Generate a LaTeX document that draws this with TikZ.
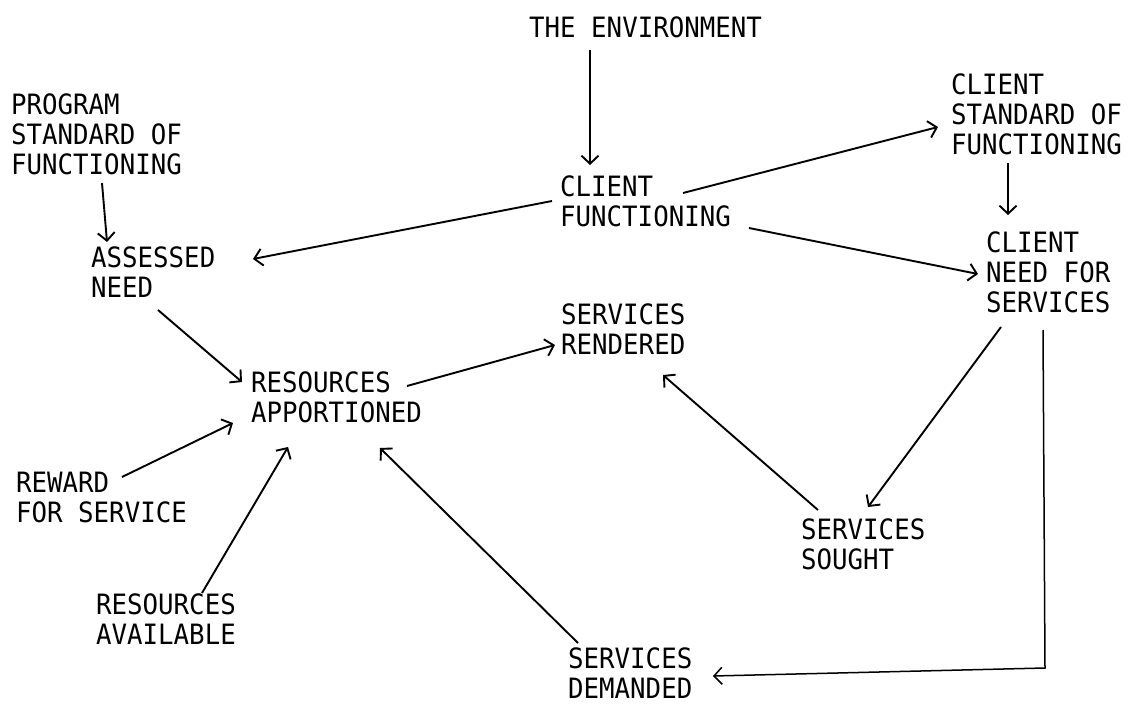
\documentclass[tikz,border=0pt]{standalone}
\usepackage{fontspec}
\usetikzlibrary{arrows.meta,calc}
\newfontfamily\labelfont[FakeStretch=0.92]{DejaVu Sans Mono}
\begin{document}
\begin{tikzpicture}[x=1pt,y=-1pt,
  lbl/.style={anchor=north west,inner sep=0pt,align=left,
    font=\labelfont\fontsize{28}{30}\selectfont},
  flow/.style={line width=1.9pt,-{Straight Barb[length=8pt,width=17pt]}}]
\useasboundingbox[fill=white] (0,0) rectangle (1130,706);

% labels
\node[lbl] (env)  at (529,17)  {THE ENVIRONMENT};
\node[lbl] (cf)   at (560,176) {CLIENT\\FUNCTIONING};
\node[lbl] (csf)  at (951,74)  {CLIENT\\STANDARD OF\\FUNCTIONING};
\node[lbl] (cnfs) at (986,232) {CLIENT\\NEED FOR\\SERVICES};
\node[lbl] (psf)  at (11,94)   {PROGRAM\\STANDARD OF\\FUNCTIONING};
\node[lbl] (an)   at (91,247)  {ASSESSED\\NEED};
\node[lbl] (ra)   at (251,372) {RESOURCES\\APPORTIONED};
\node[lbl] (sr)   at (561,304) {SERVICES\\RENDERED};
\node[lbl] (rfs)  at (16,472)  {REWARD\\FOR SERVICE};
\node[lbl] (rav)  at (96,594)  {RESOURCES\\AVAILABLE};
\node[lbl] (sd)   at (568,648) {SERVICES\\DEMANDED};
\node[lbl] (ss)   at (801,519) {SERVICES\\SOUGHT};

% connectors
\draw[flow] ($(env.north west)+(61,33)$) -- ($(cf.north west)+(30,-11)$);
\draw[flow] ($(cf.north west)+(123,17)$) -- ($(csf.north west)+(-13,53)$);
\draw[flow] ($(csf.north west)+(57,89)$) -- ($(cnfs.north west)+(22,-17)$);
\draw[flow] ($(cf.north west)+(189,52)$) -- ($(cnfs.north west)+(-8,42)$);
\draw[flow] ($(cf.north west)+(-8,25)$) -- ($(an.north west)+(162,12)$);
\draw[flow] ($(psf.north west)+(91,89)$) -- ($(an.north west)+(16,-5)$);
\draw[flow] ($(an.north west)+(67,63)$) -- ($(ra.north west)+(-9,10)$);
\draw[flow] ($(ra.north west)+(156,14)$) -- ($(sr.north west)+(-6,41)$);
\draw[flow] ($(rfs.north west)+(106,5)$) -- ($(ra.north west)+(-18,51)$);
\draw[flow] ($(rav.north west)+(106,-1)$) -- ($(ra.north west)+(37,75)$);
\draw[flow] ($(sd.north west)+(10,-5)$) -- ($(ra.north west)+(129,76)$);
\draw[flow] ($(cnfs.north west)+(15,95)$) -- ($(ss.north west)+(67,-12)$);
\draw[flow] ($(ss.north west)+(17,-9)$) -- ($(sr.north west)+(102,71)$);
\coordinate (corner) at ($(cnfs.north west)+(59,436)$);
\draw[flow,line width=1.5pt] ($(cnfs.north west)+(57,98)$) -- (corner)
  -- ($(sd.north west)+(145,28)$);
\end{tikzpicture}
\end{document}
